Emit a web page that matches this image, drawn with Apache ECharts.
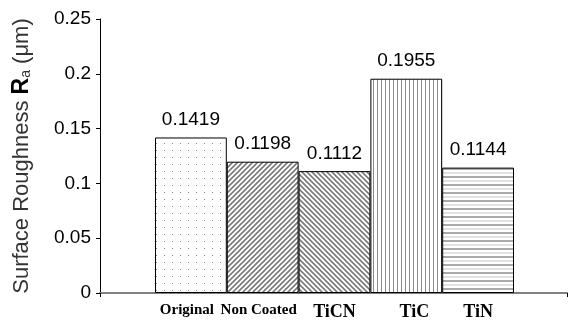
<!DOCTYPE html>
<html>
<head>
<meta charset="utf-8">
<script src="https://cdn.jsdelivr.net/npm/echarts@6/dist/echarts.min.js"></script>
<style>html,body{margin:0;padding:0;background:#fff}#c{width:570px;height:325px}</style>
</head>
<body>
<div id="c"></div>
<script>
const categories = ['Original', 'Non Coated', 'TiCN', 'TiC', 'TiN'];
const roughness = [0.1419, 0.1198, 0.1112, 0.1955, 0.1144];
const yTicks = [0, 0.05, 0.1, 0.15, 0.2, 0.25];

function makePattern(w, h, draw) {
  const c = document.createElement('canvas');
  c.width = w; c.height = h;
  const g = c.getContext('2d');
  g.fillStyle = '#fff'; g.fillRect(0, 0, w, h);
  draw(g, w, h);
  return { image: c, repeat: 'repeat' };
}
const patterns = [
  makePattern(8, 7, (g) => { g.fillStyle = '#888'; g.fillRect(4, 3, 1, 1); }),
  makePattern(5, 5, (g, w, h) => {
    g.strokeStyle = '#7a7a7a'; g.lineWidth = 1.6;
    g.beginPath();
    g.moveTo(-1, h + 1); g.lineTo(w + 1, -1);
    g.moveTo(-1 - w, h + 1); g.lineTo(1, -1);
    g.moveTo(w - 1, h + 1); g.lineTo(2 * w + 1, -1);
    g.stroke();
  }),
  makePattern(5, 5, (g, w, h) => {
    g.strokeStyle = '#7a7a7a'; g.lineWidth = 1.6;
    g.beginPath();
    g.moveTo(-1, -1); g.lineTo(w + 1, h + 1);
    g.moveTo(-1 - w, -1); g.lineTo(1, h + 1);
    g.moveTo(w - 1, -1); g.lineTo(2 * w + 1, h + 1);
    g.stroke();
  }),
  makePattern(4, 4, (g, w, h) => { g.fillStyle = '#8a8a8a'; g.fillRect(1, 0, 1, h); }),
  makePattern(1, 8, (g) => { g.fillStyle = '#aaa'; g.fillRect(0, 0, 1, 2); g.fillStyle = '#e2e2e2'; g.fillRect(0, 4, 1, 2); })
];

const chart = echarts.init(document.getElementById('c'), null, { renderer: 'canvas' });
const font = 'Liberation Sans, Arial, sans-serif';
const serif = 'Liberation Serif, Times New Roman, serif';
const labelStyleKey = { 'Original': 'o', 'Non Coated': 'n', 'TiCN': 'b', 'TiC': 'c', 'TiN': 'b' };
chart.setOption({
  animation: false,
  grid: [
    { left: 100, right: 3, top: 19, bottom: 32 },
    { left: 155, width: 359, top: 19, bottom: 32 }
  ],
  xAxis: [
    { type: 'value', gridIndex: 0, min: 0, max: 1, interval: 1,
      axisLine: { show: true, lineStyle: { color: '#808080', width: 2 } },
      axisTick: { show: true, length: 4, lineStyle: { color: '#000' } },
      axisLabel: { show: false }, splitLine: { show: false } },
    { type: 'category', gridIndex: 1, data: categories,
      axisLine: { show: false }, axisTick: { show: false },
      axisLabel: {
        interval: 0, margin: 10,
        formatter: (v) => '{' + labelStyleKey[v] + '|' + v + '}',
        rich: {
          o: { fontFamily: serif, fontWeight: 'bold', fontSize: 15, color: '#000', padding: [0, 8, 0, 0] },
          n: { fontFamily: serif, fontWeight: 'bold', fontSize: 15, color: '#000', padding: [0, 8, 0, 0] },
          b: { fontFamily: serif, fontWeight: 'bold', fontSize: 18, color: '#000' },
          c: { fontFamily: serif, fontWeight: 'bold', fontSize: 18, color: '#000', padding: [0, 0, 0, 16] }
        }
      } }
  ],
  yAxis: [
    { type: 'value', gridIndex: 0, min: yTicks[0], max: yTicks[yTicks.length - 1], interval: 0.05,
      axisLine: { show: true, lineStyle: { color: '#000', width: 1 } },
      axisTick: { show: true, inside: false, length: 4, lineStyle: { color: '#000' } },
      splitLine: { show: false },
      axisLabel: { fontFamily: font, fontSize: 19, color: '#000', margin: 9 },
      name: '{n|Surface Roughness }{r|R}{s|a}{n| (μm)}',
      nameLocation: 'middle', nameRotate: 90, nameGap: 67,
      nameTextStyle: {
        rich: {
          n: { fontFamily: font, fontSize: 22, color: '#333' },
          r: { fontFamily: font, fontSize: 23, fontWeight: 'bold', color: '#000' },
          s: { fontFamily: font, fontSize: 14, color: '#333', verticalAlign: 'bottom', padding: [8, 0, 0, 0] }
        }
      } },
    { type: 'value', gridIndex: 1, min: 0, max: 0.25, show: false }
  ],
  series: [{
    type: 'bar', xAxisIndex: 1, yAxisIndex: 1,
    barCategoryGap: 0, barGap: 0,
    data: roughness.map((v, i) => ({ value: v, itemStyle: { color: patterns[i], borderColor: '#000', borderWidth: 1 } })),
    label: { show: true, position: 'top', distance: 8, fontFamily: font, fontSize: 19, color: '#000',
      formatter: (p) => p.value.toFixed(4) }
  }]
});
</script>
</body>
</html>
